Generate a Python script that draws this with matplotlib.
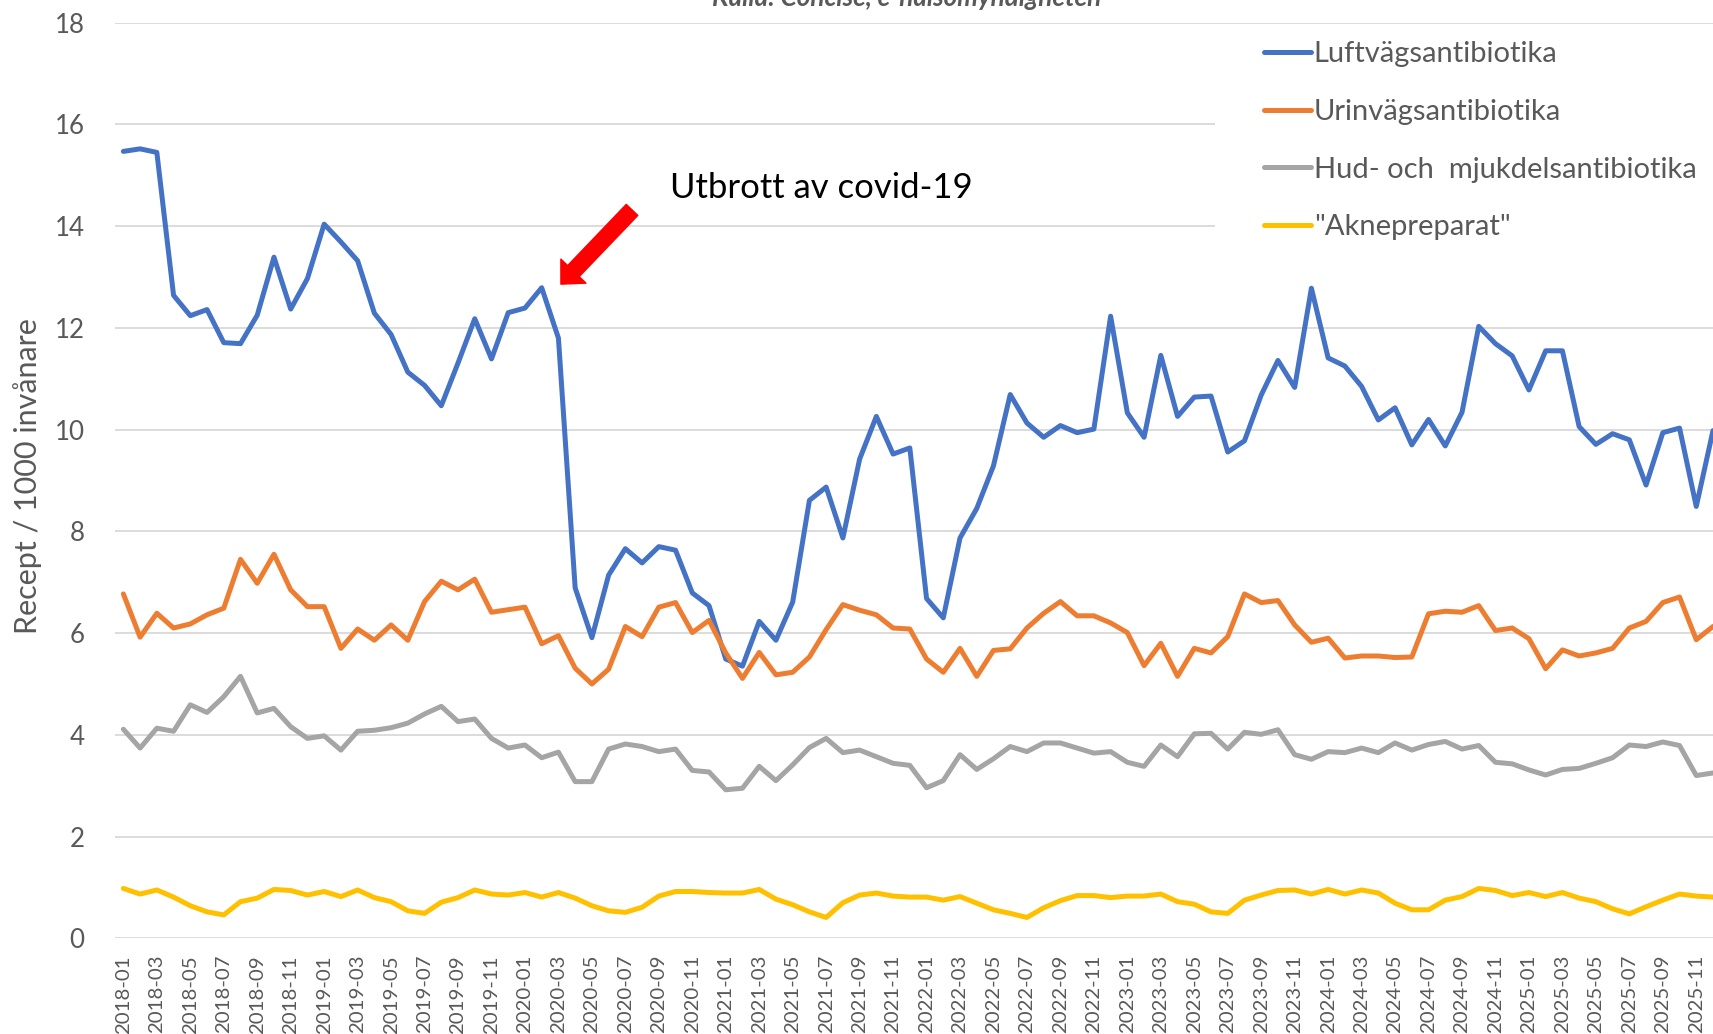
"""Antibiotic prescriptions per 1000 inhabitants, monthly 2018-2025."""

import matplotlib

matplotlib.use("Agg")
import matplotlib.pyplot as plt
from matplotlib.patches import Rectangle

months = [f"{year}-{month:02d}" for year in range(2018, 2026) for month in range(1, 13)]

luftvag = [
    15.47, 15.52, 15.45, 12.64, 12.24, 12.36, 11.71, 11.69, 12.25, 13.39, 12.37, 12.97,
    14.04, 13.69, 13.32, 12.29, 11.87, 11.13, 10.87, 10.47, 11.31, 12.18, 11.39, 12.30,
    12.39, 12.79, 11.80, 6.89, 5.91, 7.14, 7.66, 7.38, 7.70, 7.63, 6.79, 6.54,
    5.49, 5.35, 6.23, 5.86, 6.61, 8.61, 8.87, 7.87, 9.42, 10.26, 9.52, 9.64,
    6.68, 6.30, 7.87, 8.45, 9.29, 10.69, 10.13, 9.85, 10.08, 9.94, 10.01, 12.23,
    10.33, 9.85, 11.46, 10.26, 10.64, 10.66, 9.56, 9.78, 10.68, 11.36, 10.83, 12.78,
    11.41, 11.25, 10.85, 10.19, 10.43, 9.70, 10.20, 9.68, 10.34, 12.03, 11.69, 11.45,
    10.78, 11.55, 11.55, 10.06, 9.71, 9.92, 9.80, 8.91, 9.94, 10.03, 8.49, 9.98,
]
urinvag = [
    6.77, 5.92, 6.39, 6.10, 6.18, 6.36, 6.49, 7.45, 6.98, 7.55, 6.85, 6.52,
    6.52, 5.70, 6.08, 5.86, 6.16, 5.86, 6.62, 7.02, 6.85, 7.06, 6.41, 6.46,
    6.51, 5.79, 5.95, 5.31, 5.00, 5.29, 6.13, 5.93, 6.51, 6.60, 6.01, 6.25,
    5.61, 5.11, 5.62, 5.18, 5.23, 5.53, 6.07, 6.56, 6.45, 6.36, 6.10, 6.08,
    5.49, 5.23, 5.70, 5.15, 5.66, 5.69, 6.10, 6.39, 6.62, 6.34, 6.34, 6.20,
    6.01, 5.36, 5.80, 5.15, 5.70, 5.61, 5.93, 6.77, 6.60, 6.64, 6.16, 5.82,
    5.90, 5.51, 5.55, 5.55, 5.52, 5.53, 6.38, 6.43, 6.41, 6.54, 6.05, 6.10,
    5.89, 5.30, 5.67, 5.55, 5.61, 5.70, 6.10, 6.23, 6.60, 6.71, 5.87, 6.13,
]
hud = [
    4.11, 3.74, 4.13, 4.07, 4.59, 4.44, 4.75, 5.15, 4.43, 4.52, 4.16, 3.93,
    3.98, 3.70, 4.07, 4.09, 4.14, 4.23, 4.41, 4.56, 4.26, 4.31, 3.93, 3.74,
    3.80, 3.55, 3.66, 3.08, 3.08, 3.72, 3.82, 3.77, 3.67, 3.72, 3.30, 3.27,
    2.92, 2.95, 3.38, 3.10, 3.41, 3.75, 3.93, 3.65, 3.70, 3.57, 3.44, 3.40,
    2.96, 3.10, 3.61, 3.32, 3.53, 3.77, 3.67, 3.84, 3.84, 3.74, 3.64, 3.67,
    3.46, 3.38, 3.80, 3.57, 4.02, 4.03, 3.72, 4.05, 4.01, 4.10, 3.61, 3.52,
    3.67, 3.65, 3.74, 3.65, 3.84, 3.70, 3.81, 3.87, 3.72, 3.79, 3.46, 3.43,
    3.31, 3.21, 3.32, 3.34, 3.44, 3.55, 3.80, 3.77, 3.86, 3.79, 3.20, 3.25,
]
akne = [
    0.98, 0.87, 0.95, 0.81, 0.64, 0.52, 0.46, 0.72, 0.79, 0.96, 0.94, 0.85,
    0.92, 0.82, 0.95, 0.80, 0.72, 0.54, 0.49, 0.71, 0.80, 0.95, 0.87, 0.85,
    0.90, 0.81, 0.90, 0.79, 0.64, 0.54, 0.51, 0.61, 0.83, 0.92, 0.92, 0.90,
    0.89, 0.89, 0.96, 0.77, 0.66, 0.52, 0.41, 0.70, 0.85, 0.89, 0.83, 0.81,
    0.81, 0.75, 0.82, 0.69, 0.56, 0.49, 0.41, 0.60, 0.74, 0.84, 0.84, 0.80,
    0.83, 0.83, 0.87, 0.72, 0.67, 0.52, 0.49, 0.75, 0.85, 0.94, 0.95, 0.87,
    0.96, 0.87, 0.95, 0.89, 0.69, 0.56, 0.56, 0.75, 0.82, 0.98, 0.94, 0.84,
    0.90, 0.82, 0.90, 0.79, 0.72, 0.58, 0.48, 0.62, 0.75, 0.87, 0.83, 0.81,
]

series_names = [
    "Luftvägsantibiotika",
    "Urinvägsantibiotika",
    "Hud- och  mjukdelsantibiotika",
    '"Aknepreparat"',
]
series_colors = ["#4472C4", "#ED7D31", "#A5A5A5", "#FFC000"]

W, H = 1713, 1034
TEXT_GREY = "#595959"

plt.rcParams["font.family"] = ["Lato", "DejaVu Sans"]

fig = plt.figure(figsize=(W / 100, H / 100), dpi=100)
ax = fig.add_axes([115 / W, 1 - 938.3 / H, 1 - 115 / W, (938.3 - 22.7) / H])

x = list(range(len(months)))
for values, name, color in zip([luftvag, urinvag, hud, akne], series_names, series_colors):
    ax.plot(x, values, color=color, lw=3.6, label=name,
            solid_capstyle="round", solid_joinstyle="round", zorder=3)

ax.set_xlim(-0.5, 95.0)
ax.set_ylim(0, 18)
ax.set_yticks(range(0, 19, 2))
ax.set_xticks(x[::2])
ax.set_xticklabels(months[::2], rotation=90)
ax.tick_params(axis="x", length=0, pad=12, labelsize=14.7, labelcolor=TEXT_GREY)
ax.tick_params(axis="y", length=0, pad=22, labelsize=18.6, labelcolor=TEXT_GREY)
ax.grid(axis="y", color="#D9D9D9", lw=1.3)
ax.set_axisbelow(True)
for spine in ax.spines.values():
    spine.set_visible(False)

ax.set_ylabel("Recept / 1000 invånare", fontsize=22, color=TEXT_GREY)
ax.yaxis.set_label_coords(-0.0455, 0.505)

# white box behind the legend hides the gridlines there
ax.add_patch(Rectangle((1215 / W, 1 - 262 / H), 1 - 1215 / W, (262 - 27) / H,
                       transform=fig.transFigure, facecolor="white",
                       edgecolor="none", clip_on=False, zorder=1))
leg = ax.legend(loc="upper left", bbox_to_anchor=(1264 / W, 1 - 41.3 / H),
                bbox_transform=fig.transFigure, frameon=False, fontsize=21,
                handlelength=1.61, handletextpad=0.1, labelspacing=1.085,
                borderpad=0, borderaxespad=0)
for text in leg.get_texts():
    text.set_color(TEXT_GREY)

ax.text(32.67, 14.75, "Utbrott av covid-19", fontsize=24.9, va="center", color="black")
ax.annotate("", xy=(26.15, 12.86), xytext=(30.40, 14.32),
            arrowprops=dict(arrowstyle="simple,head_length=1.3,head_width=2.5,tail_width=1.15",
                            color="red", shrinkA=0, shrinkB=0, mutation_scale=10))

fig.text(907 / W, 1 - 6 / H, "Källa: Concise, e-hälsomyndigheten", ha="center",
         va="baseline", fontsize=18.7, fontweight="bold", fontstyle="italic", color=TEXT_GREY)

fig.savefig("out.png", dpi=100)
